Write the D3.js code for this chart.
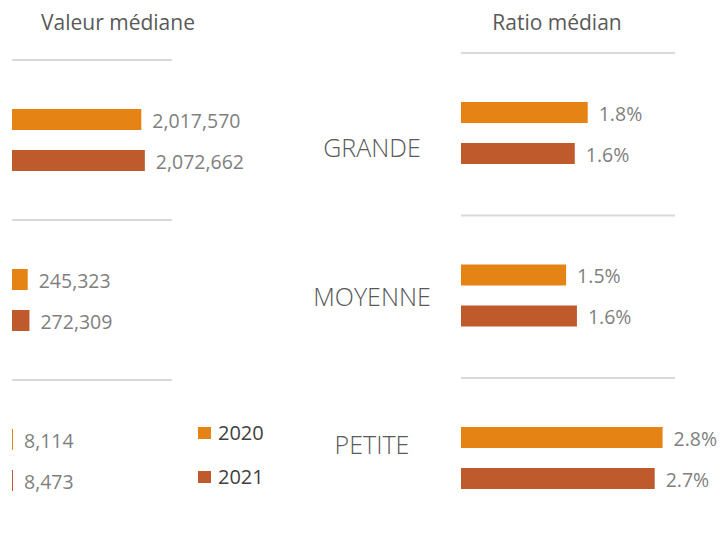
<!DOCTYPE html>
<html>
<head>
<meta charset="utf-8">
<script src="https://cdn.jsdelivr.net/npm/d3@7"></script>
<style>
  body { margin: 0; background: #fff; }
  text { font-family: "Open Sans", sans-serif; }
</style>
</head>
<body>
<script>
const width = 720;
const height = 538;

const categories = ["GRANDE", "MOYENNE", "PETITE"];
const years = ["2020", "2021"];
const valeur2020 = [2017570, 245323, 8114];
const valeur2021 = [2072662, 272309, 8473];
const ratio2020 = [1.76, 1.46, 2.80];
const ratio2021 = [1.58, 1.61, 2.69];

const colors = { "2020": "#e58414", "2021": "#bf5a2c" };

const svg = d3.select("body")
  .append("svg")
  .attr("width", width)
  .attr("height", height);

// each panel: one band per category, two bars per band
const yLeft = d3.scaleBand().domain(categories).range([60, 540]);
const yRight = d3.scaleBand().domain(categories).range([53, 540.5]);
const yInner = d3.scaleBand().domain(years).range([49, 111]).paddingInner(20 / 41).paddingOuter(0);

const xLeft = d3.scaleLinear().domain([0, 2200000]).range([12, 153]);
const xRight = d3.scaleLinear().domain([0, 3]).range([461, 677]);

const fmtValeur = d3.format(",");
const fmtRatio = d => d.toFixed(1) + "%";

function panel(g, y, x, s2020, s2021, fmt, sepEnd) {
  const rows = [];
  categories.forEach((c, i) => {
    rows.push({ cat: c, year: "2020", v: s2020[i] });
    rows.push({ cat: c, year: "2021", v: s2021[i] });
  });

  g.selectAll("line.sep")
    .data(categories)
    .enter()
    .append("line")
    .attr("class", "sep")
    .attr("x1", x(0))
    .attr("x2", sepEnd)
    .attr("y1", d => y(d))
    .attr("y2", d => y(d))
    .attr("stroke", "#d9d9d9")
    .attr("stroke-width", 2);

  g.selectAll("rect.bar")
    .data(rows)
    .enter()
    .append("rect")
    .attr("class", "bar")
    .attr("x", x(0))
    .attr("y", d => y(d.cat) + yInner(d.year))
    .attr("width", d => Math.max(1, x(d.v) - x(0)))
    .attr("height", yInner.bandwidth())
    .attr("fill", d => colors[d.year]);

  g.selectAll("text.val")
    .data(rows)
    .enter()
    .append("text")
    .attr("class", "val")
    .attr("x", d => Math.max(x(0) + 1, x(d.v)) + 11)
    .attr("y", d => y(d.cat) + yInner(d.year) + yInner.bandwidth() / 2)
    .attr("dy", "0.42em")
    .attr("font-size", 19.5)
    .attr("fill", "#7f7f7f")
    .text(d => fmt(d.v));
}

panel(svg.append("g"), yLeft, xLeft, valeur2020, valeur2021, fmtValeur, 172);
panel(svg.append("g"), yRight, xRight, ratio2020, ratio2021, fmtRatio, 675);

// titles
svg.append("text")
  .attr("x", 118)
  .attr("y", 30)
  .attr("text-anchor", "middle")
  .attr("font-size", 21)
  .attr("fill", "#595959")
  .text("Valeur médiane");

svg.append("text")
  .attr("x", 557)
  .attr("y", 30)
  .attr("text-anchor", "middle")
  .attr("font-size", 21)
  .attr("fill", "#595959")
  .text("Ratio médian");

// category labels in the middle
const yCat = d3.scalePoint().domain(categories).range([148, 445]);
svg.selectAll("text.cat")
  .data(categories)
  .enter()
  .append("text")
  .attr("class", "cat")
  .attr("x", 372)
  .attr("y", d => yCat(d))
  .attr("dy", "0.36em")
  .attr("text-anchor", "middle")
  .attr("font-size", 25)
  .attr("font-weight", 300)
  .attr("fill", "#595959")
  .text(d => d);

// legend
const yLegend = d3.scalePoint().domain(years).range([433, 477]);
const legend = svg.selectAll("g.legend")
  .data(years)
  .enter()
  .append("g")
  .attr("class", "legend")
  .attr("transform", d => `translate(198,${yLegend(d)})`);

legend.append("rect")
  .attr("x", 0)
  .attr("y", -6)
  .attr("width", 13)
  .attr("height", 12)
  .attr("fill", d => colors[d]);

legend.append("text")
  .attr("x", 20)
  .attr("y", 0)
  .attr("dy", "0.36em")
  .attr("font-size", 20)
  .attr("fill", "#404040")
  .text(d => d);
</script>
</body>
</html>
